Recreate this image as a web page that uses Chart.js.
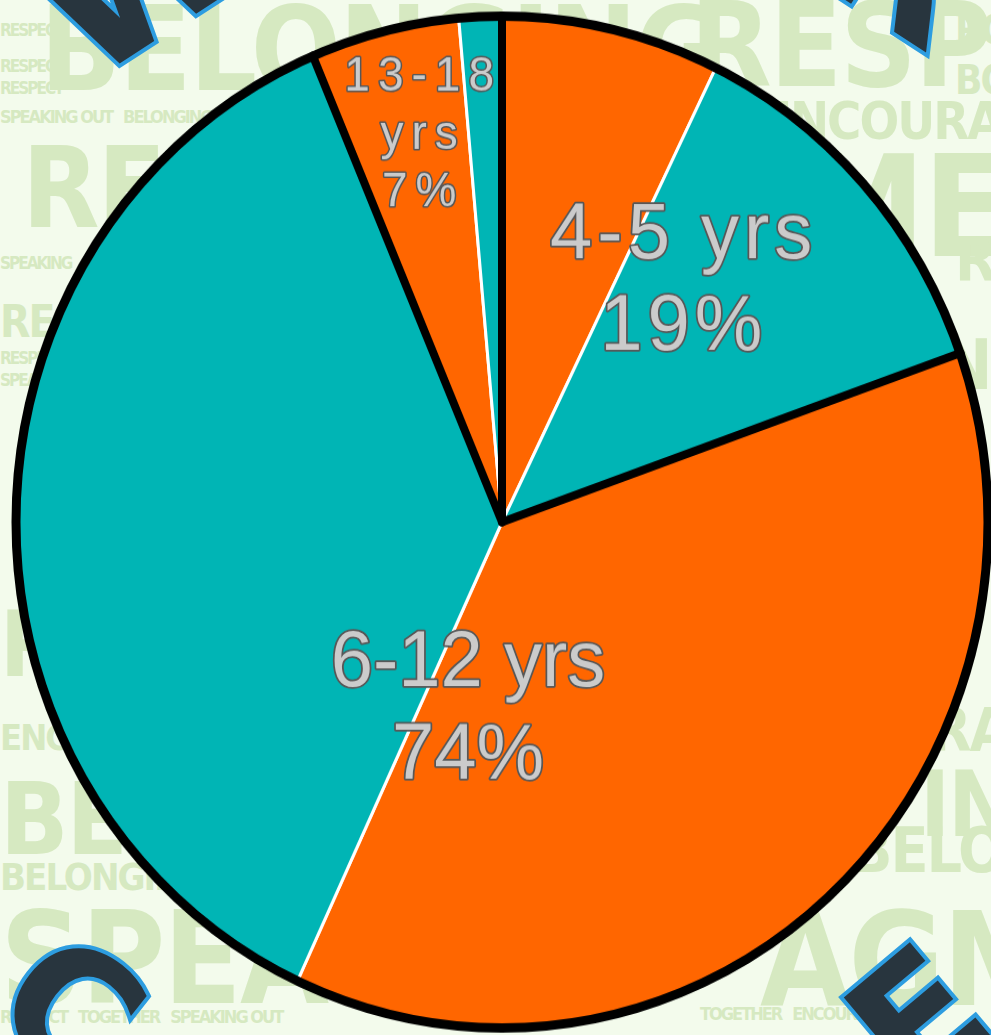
<!DOCTYPE html>
<html>
<head>
<meta charset="utf-8">
<script src="https://cdn.jsdelivr.net/npm/chart.js@4.4.1/dist/chart.umd.min.js"></script>
<style>
  html, body { margin: 0; padding: 0; }
  body {
    width: 991px; height: 1035px; overflow: hidden; position: relative;
    background: #f3fbec;
    font-family: "DejaVu Sans Condensed", sans-serif;
  }
  .cloud span {
    position: absolute; color: #d6e9c1; font-weight: bold;
    white-space: nowrap; line-height: 1; letter-spacing: -2px;
  }
  .title span {
    position: absolute; color: #28353e; font-family: "DejaVu Sans", sans-serif;
    font-weight: bold; line-height: 1;
    -webkit-text-stroke: 8px #2d9de0; paint-order: stroke fill;
  }
  #wrap {
    position: absolute; left: 0; top: 0; width: 991px; height: 995px;
    transform-origin: 0 0; transform: scaleY(1.041);
  }
</style>
</head>
<body>
<div class="cloud">
  <span style="left:40px;top:-10px;font-size:118px">BELONGING</span>
  <span style="left:690px;top:-14px;font-size:118px">RESPECT</span>
  <span style="left:760px;top:95px;font-size:52px">ENCOURAGMENT</span>
  <span style="left:800px;top:138px;font-size:140px">MENT</span>
  <span style="left:22px;top:132px;font-size:112px">RESPECT</span>
  <span style="left:0;top:22px;font-size:17px">RESPECT</span>
  <span style="left:0;top:58px;font-size:17px">RESPECT</span>
  <span style="left:0;top:80px;font-size:17px">RESPECT</span>
  <span style="left:0;top:108px;font-size:18px">SPEAKING OUT &nbsp; BELONGING</span>
  <span style="left:0;top:255px;font-size:17px">SPEAKING</span>
  <span style="left:0;top:300px;font-size:44px">RESPECT</span>
  <span style="left:0;top:350px;font-size:17px">RESPECT</span>
  <span style="left:0;top:372px;font-size:17px">SPEAKING</span>
  <span style="left:0;top:600px;font-size:90px">RESPECT</span>
  <span style="left:0;top:720px;font-size:36px">ENCOURAG</span>
  <span style="left:0;top:770px;font-size:100px">BELONG</span>
  <span style="left:0;top:858px;font-size:38px">BELONGING WITH</span>
  <span style="left:0;top:895px;font-size:128px">SPEAKING</span>
  <span style="left:0;top:1008px;font-size:18px">RESPECT &nbsp; TOGETHER &nbsp; SPEAKING OUT</span>
  <span style="left:955px;top:10px;font-size:40px">RO</span>
  <span style="left:955px;top:60px;font-size:40px">BO</span>
  <span style="left:955px;top:230px;font-size:60px">RE</span>
  <span style="left:940px;top:330px;font-size:70px">NG</span>
  <span style="left:930px;top:700px;font-size:60px">RAK</span>
  <span style="left:920px;top:760px;font-size:90px">IN</span>
  <span style="left:850px;top:820px;font-size:62px">BELONGING</span>
  <span style="left:760px;top:895px;font-size:130px">AGMENT</span>
  <span style="left:700px;top:1005px;font-size:18px">TOGETHER &nbsp; ENCOURAGMENT</span>
</div>
<div class="title">
  <span style="left:35px;top:-122px;font-size:190px;transform:rotate(-33deg)">W</span>
  <span style="left:830px;top:-135px;font-size:190px;transform:rotate(33deg)">R</span>
  <span style="left:8px;top:925px;font-size:170px;transform:rotate(38deg)">C</span>
  <span style="left:860px;top:935px;font-size:170px;transform:rotate(-40deg)">E</span>
</div>
<div id="wrap">
  <canvas id="agePie" width="991" height="995"></canvas>
</div>
<script>
// age groups of the children, split in two shaded halves each
const ageGroups = ["4-5 yrs", "6-12 yrs", "13-18 yrs"];
const groupShares = [19, 74, 7];
const sliceValues = [7.25, 12.33, 37.33, 36.72, 4.94, 1.42];
const sliceGroups = [0, 0, 1, 1, 2, 2];

const ORANGE = "#ff6600";
const TEAL = "#00b5b5";
const sliceColors = sliceValues.map((v, i) => (i % 2 === 0 ? ORANGE : TEAL));

// black spokes between age groups and the black rim
const groupOutline = {
  id: "groupOutline",
  afterDatasetsDraw(chart, args, opts) {
    const arcs = chart.getDatasetMeta(0).data;
    const { x, y, outerRadius } = arcs[0];
    const ctx = chart.ctx;
    ctx.save();
    ctx.strokeStyle = "#000";
    ctx.lineCap = "round";
    ctx.lineJoin = "round";
    ctx.lineWidth = opts.spokeWidth;
    arcs.forEach((arc, i) => {
      const prev = sliceGroups[(i - 1 + arcs.length) % arcs.length];
      if (sliceGroups[i] !== prev) {
        ctx.beginPath();
        ctx.moveTo(x, y);
        ctx.lineTo(x + Math.cos(arc.startAngle) * outerRadius, y + Math.sin(arc.startAngle) * outerRadius);
        ctx.stroke();
      }
    });
    ctx.lineWidth = opts.rimWidth;
    ctx.beginPath();
    ctx.arc(x, y, outerRadius - 0.5, 0, Math.PI * 2);
    ctx.stroke();
    ctx.restore();
  }
};

// grey outlined labels, one per age group
const groupLabels = {
  id: "groupLabels",
  afterDatasetsDraw(chart, args, opts) {
    const arcs = chart.getDatasetMeta(0).data;
    const { x, y, outerRadius } = arcs[0];
    const ctx = chart.ctx;
    ctx.save();
    ctx.textAlign = "center";
    ctx.textBaseline = "alphabetic";
    ctx.lineJoin = "round";
    ageGroups.forEach((name, g) => {
      const mine = arcs.filter((a, i) => sliceGroups[i] === g);
      const start = mine[0].startAngle;
      const end = mine[mine.length - 1].endAngle;
      const spot = opts.spots[g];
      const ang = (start + end) / 2 + spot.shift * Math.PI / 180;
      const r = outerRadius * spot.radius;
      const lx = x + Math.cos(ang) * r + spot.spacing / 2;
      const ly = y + Math.sin(ang) * r;

      const small = groupShares[g] < 10;
      const size = small ? opts.smallSize : opts.bigSize;
      const lines = small
        ? [...name.split(" "), groupShares[g] + "%"]
        : [name, groupShares[g] + "%"];
      const lh = size * (small ? 1.2 : 1.16);
      const cap = size * 0.716;
      const h = cap + (lines.length - 1) * lh;
      ctx.font = size + 'px "Liberation Sans", Arial, sans-serif';
      ctx.letterSpacing = spot.spacing + "px";
      lines.forEach((line, k) => {
        const by = ly - h / 2 + cap + k * lh;
        ctx.lineWidth = small ? 3 : 3.5;
        ctx.strokeStyle = "#575757";
        ctx.strokeText(line, lx, by);
        ctx.fillStyle = "#cbcbcb";
        ctx.fillText(line, lx, by);
      });
    });
    ctx.restore();
  }
};

new Chart(document.getElementById("agePie"), {
  type: "pie",
  data: {
    labels: sliceGroups.map((g) => ageGroups[g]),
    datasets: [{
      data: sliceValues,
      backgroundColor: sliceColors,
      borderColor: "#ffffff",
      borderWidth: 3
    }]
  },
  options: {
    responsive: false,
    animation: false,
    layout: { padding: { left: 14, right: 1, top: 13.5, bottom: 5.5 } },
    plugins: {
      legend: { display: false },
      tooltip: { enabled: false },
      groupOutline: { spokeWidth: 8, rimWidth: 9 },
      groupLabels: {
        bigSize: 76,
        smallSize: 46,
        spots: [
          { shift: 1.9, radius: 0.61, spacing: 5 },
          { shift: -12.8, radius: 0.366, spacing: 0 },
          { shift: -1, radius: 0.79, spacing: 8 }
        ]
      }
    }
  },
  plugins: [groupOutline, groupLabels]
});
</script>
</body>
</html>
